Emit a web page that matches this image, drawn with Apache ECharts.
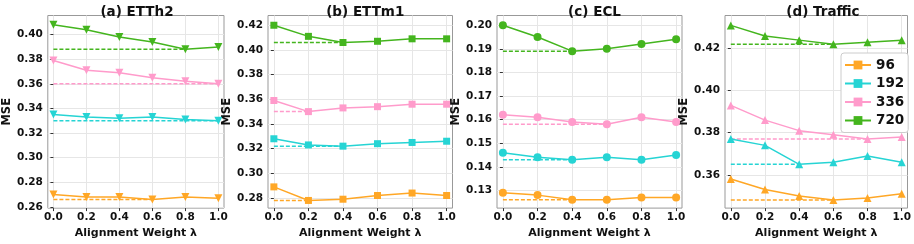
<!DOCTYPE html>
<html><head><meta charset="utf-8">
<script src="https://cdn.jsdelivr.net/npm/echarts@6/dist/echarts.min.js"></script>
<style>html,body{margin:0;padding:0;background:#fff}#c{width:914px;height:244px}</style>
</head><body><div id="c"></div>
<script>
const xs = [0.0, 0.2, 0.4, 0.6, 0.8, 1.0];
const xTicks = [0.0, 0.2, 0.4, 0.6, 0.8, 1.0];
const seriesNames = ['96', '192', '336', '720'];
const colors = ['#FFA726', '#26D4D4', '#FF9BCB', '#44B51E'];

const titles = ['(a) ETTh2', '(b) ETTm1', '(c) ECL', '(d) Traffic'];

const etth2_96  = [0.270, 0.268, 0.268, 0.266, 0.268, 0.267];
const etth2_192 = [0.335, 0.333, 0.332, 0.333, 0.331, 0.330];
const etth2_336 = [0.379, 0.371, 0.369, 0.365, 0.362, 0.360];
const etth2_720 = [0.408, 0.404, 0.398, 0.394, 0.388, 0.390];

const ettm1_96  = [0.289, 0.278, 0.279, 0.282, 0.284, 0.282];
const ettm1_192 = [0.328, 0.323, 0.322, 0.324, 0.325, 0.326];
const ettm1_336 = [0.359, 0.350, 0.353, 0.354, 0.356, 0.356];
const ettm1_720 = [0.420, 0.411, 0.406, 0.407, 0.409, 0.409];

const ecl_96  = [0.129, 0.128, 0.126, 0.126, 0.127, 0.127];
const ecl_192 = [0.146, 0.144, 0.143, 0.144, 0.143, 0.145];
const ecl_336 = [0.162, 0.161, 0.159, 0.158, 0.161, 0.159];
const ecl_720 = [0.200, 0.195, 0.189, 0.190, 0.192, 0.194];

const traffic_96  = [0.358, 0.353, 0.350, 0.348, 0.349, 0.351];
const traffic_192 = [0.377, 0.374, 0.365, 0.366, 0.369, 0.366];
const traffic_336 = [0.393, 0.386, 0.381, 0.379, 0.377, 0.378];
const traffic_720 = [0.431, 0.426, 0.424, 0.422, 0.423, 0.424];

const yTicksA = [0.26, 0.28, 0.30, 0.32, 0.34, 0.36, 0.38, 0.40];
const yTicksB = [0.28, 0.30, 0.32, 0.34, 0.36, 0.38, 0.40, 0.42];
const yTicksC = [0.13, 0.14, 0.15, 0.16, 0.17, 0.18, 0.19, 0.20];
const yTicksD = [0.36, 0.38, 0.40, 0.42];

const panelData = [
  [etth2_96, etth2_192, etth2_336, etth2_720],
  [ettm1_96, ettm1_192, ettm1_336, ettm1_720],
  [ecl_96, ecl_192, ecl_336, ecl_720],
  [traffic_96, traffic_192, traffic_336, traffic_720]
];
const panelTicks = [yTicksA, yTicksB, yTicksC, yTicksD];
const yRanges = [[0.259, 0.4155], [0.2718, 0.4279], [0.1225, 0.2041], [0.3442, 0.4357]];
const symbols = [['triangle', 180], ['rect', 0], ['circle', 0], ['triangle', 0]];
const gridLefts = [40, 268, 497, 725];
const gridWidths = [184, 184.5, 185, 186];
const FONT = '"DejaVu Sans", sans-serif';

const grids = [], xAxes = [], yAxes = [], series = [], titleList = [];
// legend-only entries (square marker on a line), drawn with no data
for (let s = 0; s < 4; s++) {
  series.push({type: 'line', name: seriesNames[s], xAxisIndex: 3, yAxisIndex: 3, data: [],
    symbol: 'rect', symbolSize: 9, itemStyle: {color: colors[s]}, lineStyle: {color: colors[s], width: 1.5}});
}
for (let p = 0; p < 4; p++) {
  grids.push({left: gridLefts[p], top: 15.5, width: gridWidths[p], height: 197.5,
    show: true, borderColor: '#999', borderWidth: 1, backgroundColor: 'transparent'});
  titleList.push({text: titles[p], left: gridLefts[p] + gridWidths[p] / 2, top: 0, textAlign: 'center',
    textStyle: {fontFamily: FONT, fontSize: 13.5, fontWeight: 'bold', color: '#111'}});
  xAxes.push({type: 'value', gridIndex: p, min: -0.034, max: 1.034,
    name: 'Alignment Weight λ', nameLocation: 'middle', nameGap: 17,
    nameTextStyle: {fontFamily: FONT, fontSize: 11, fontWeight: 'bold', color: '#111'},
    axisLine: {show: false},
    axisTick: {show: true, length: 3, customValues: xTicks, lineStyle: {color: '#333'}},
    axisLabel: {customValues: xTicks, margin: 4, fontFamily: FONT, fontSize: 10.5, fontWeight: 'bold', color: '#111',
      formatter: v => v.toFixed(1)},
    splitLine: {show: true, lineStyle: {color: '#e6e6e6', width: 1}}});
  yAxes.push({type: 'value', gridIndex: p, min: yRanges[p][0], max: yRanges[p][1],
    name: 'MSE', nameLocation: 'middle', nameGap: 30,
    nameTextStyle: {fontFamily: FONT, fontSize: 11.5, fontWeight: 'bold', color: '#111'},
    axisLine: {show: false},
    axisTick: {show: true, length: 3, customValues: panelTicks[p], lineStyle: {color: '#333'}},
    axisLabel: {customValues: panelTicks[p], margin: 5, fontFamily: FONT, fontSize: 10.5, fontWeight: 'bold', color: '#111',
      formatter: v => v.toFixed(2)},
    splitLine: {show: true, lineStyle: {color: '#e6e6e6', width: 1}}});
  for (let s = 0; s < 4; s++) {
    const vals = panelData[p][s];
    const minV = Math.min(...vals);
    const minX = xs[vals.indexOf(minV)];
    series.push({type: 'line', name: seriesNames[s] + '_base', xAxisIndex: p, yAxisIndex: p,
      data: [[xs[0], minV], [minX, minV]], symbol: 'none', silent: true, z: 1,
      lineStyle: {color: colors[s], width: 1.5, type: [4, 2]}});
    series.push({type: 'line', name: seriesNames[s], xAxisIndex: p, yAxisIndex: p,
      data: xs.map((x, i) => [x, vals[i]]), symbol: symbols[p][0], symbolRotate: symbols[p][1],
      symbolSize: symbols[p][0] === 'rect' ? 7 : 8, z: 3,
      itemStyle: {color: colors[s]}, lineStyle: {color: colors[s], width: 1.5}});
  }
}

const chart = echarts.init(document.getElementById('c'), null, {renderer: 'canvas'});
chart.setOption({
  animation: false,
  title: titleList,
  grid: grids, xAxis: xAxes, yAxis: yAxes, series: series,
  legend: {data: seriesNames, orient: 'vertical',
    left: 841, top: 53, itemWidth: 26, itemHeight: 11, itemGap: 4.5,
    backgroundColor: '#fff', borderColor: '#ccc', borderWidth: 1, borderRadius: 3, padding: [5, 4, 5, 3],
    textStyle: {fontFamily: FONT, fontSize: 13.5, fontWeight: 'bold', color: '#111'}}
});
</script></body></html>
